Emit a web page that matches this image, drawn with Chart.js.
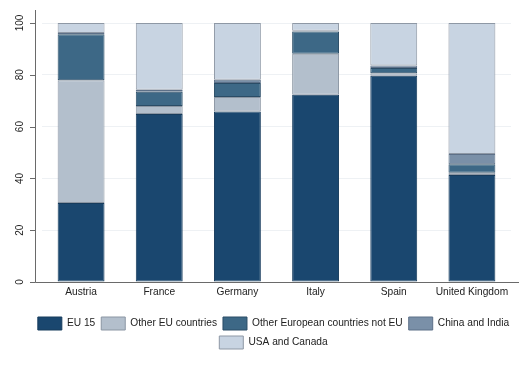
<!DOCTYPE html>
<html>
<head>
<meta charset="utf-8">
<script src="https://cdn.jsdelivr.net/npm/chart.js@4/dist/chart.umd.min.js"></script>
<style>
  html, body { margin: 0; padding: 0; background: #fff; }
  #wrap { width: 519px; height: 381px; position: relative; }
</style>
</head>
<body>
<div id="wrap"><canvas id="myChart"></canvas></div>
<script>
// categories and series (share in %, stacked to 100)
const countries = ["Austria", "France", "Germany", "Italy", "Spain", "United Kingdom"];
const eu15 = [30.5, 64.9, 65.8, 72.3, 79.6, 41.3];
const otherEu = [47.4, 3.1, 5.6, 15.8, 1.0, 0.9];
const otherEurope = [17.8, 5.5, 5.4, 8.6, 2.0, 3.3];
const chinaIndia = [0.4, 0.7, 1.3, 0.3, 1.0, 3.9];
const usaCanada = [3.9, 25.8, 21.9, 3.0, 16.4, 50.6];
const yTicks = [0, 20, 40, 60, 80, 100];

const FONT = "'Liberation Sans', Arial, Helvetica, sans-serif";
const AXIS_COLOR = "#6a6a6a";

// stata-like axis lines, drawn a bit outside the plot area
const axisLines = {
  id: 'axisLines',
  afterDraw(chart) {
    const ctx = chart.ctx;
    const y = chart.scales.y;
    const y0 = Math.round(y.getPixelForValue(0)) + 0.5;
    const xa = 35.5;
    ctx.save();
    ctx.strokeStyle = AXIS_COLOR;
    ctx.lineWidth = 1;
    ctx.beginPath();
    ctx.moveTo(xa, 10);
    ctx.lineTo(xa, y0);
    ctx.moveTo(xa, y0);
    ctx.lineTo(519, y0);
    yTicks.forEach(v => {
      const py = Math.round(y.getPixelForValue(v)) + 0.5;
      ctx.moveTo(30, py);
      ctx.lineTo(xa, py);
    });
    ctx.stroke();
    ctx.restore();
  }
};

function ds(label, data, bg, border) {
  return {
    label: label,
    data: data,
    backgroundColor: bg,
    borderColor: border,
    borderWidth: 1,
    borderSkipped: false,
    barPercentage: 0.6,
    categoryPercentage: 1.0
  };
}

const ctx = document.getElementById("myChart").getContext("2d");
new Chart(ctx, {
  type: 'bar',
  data: {
    labels: countries,
    datasets: [
      ds("EU 15", eu15, "#1a476f", "#173c5d"),
      ds("Other EU countries", otherEu, "#b3bfcc", "#8b96a3"),
      ds("Other European countries not EU", otherEurope, "#3d6886", "#2a4c66"),
      ds("China and India", chinaIndia, "#7a90a8", "#5d7088"),
      ds("USA and Canada", usaCanada, "#c8d4e2", "#8e98a5")
    ]
  },
  options: {
    responsive: true,
    maintainAspectRatio: false,
    animation: false,
    // negative right padding widens the layout so the legend centres like the original
    layout: { padding: { left: 0, right: -28, top: 23, bottom: 22 } },
    scales: {
      x: {
        stacked: true,
        grid: { display: false, drawTicks: false },
        border: { display: false },
        ticks: { color: "#222", font: { family: FONT, size: 10.2 }, padding: 4, maxRotation: 0, autoSkip: false },
        afterFit: (scale) => { scale.height = 29; }
      },
      y: {
        stacked: true,
        min: 0,
        max: 100,
        afterBuildTicks: (scale) => { scale.ticks = yTicks.map(v => ({ value: v })); },
        grid: { color: "#eef1f4", lineWidth: 1, drawTicks: false },
        border: { display: false },
        ticks: {
          color: "#222",
          font: { family: FONT, size: 10 },
          minRotation: 90,
          maxRotation: 90,
          crossAlign: 'center',
          padding: 13,
          autoSkip: false
        },
        afterFit: (scale) => { scale.width = 42; }
      },
      // empty spacer on the right so the bars sit where they do in the original
      spacer: {
        position: 'right',
        display: true,
        grid: { display: false, drawTicks: false },
        border: { display: false },
        ticks: { display: false },
        afterFit: (scale) => { scale.width = 36; }
      }
    },
    plugins: {
      legend: {
        position: 'bottom',
        labels: {
          boxWidth: 24,
          boxHeight: 13,
          padding: 6,
          color: "#222",
          font: { family: FONT, size: 10.2 }
        }
      },
      tooltip: { enabled: false }
    }
  },
  plugins: [axisLines]
});
</script>
</body>
</html>
